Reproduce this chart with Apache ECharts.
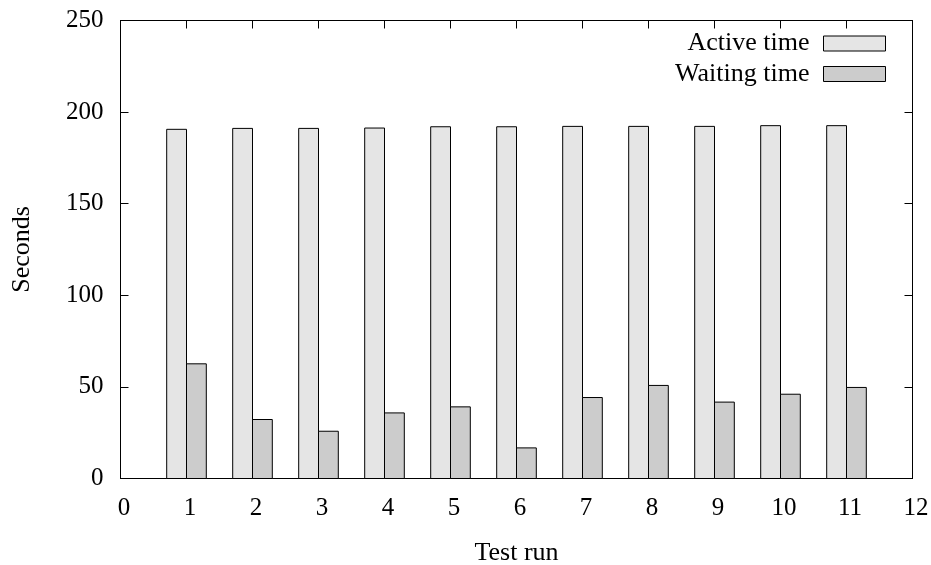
<!DOCTYPE html>
<html>
<head>
<meta charset="utf-8">
<script src="https://cdn.jsdelivr.net/npm/echarts@6/dist/echarts.min.js"></script>
<style>
  html, body { margin: 0; padding: 0; background: #fff; }
  #chart { width: 931px; height: 565px; }
</style>
</head>
<body>
<div id="chart"></div>
<script>
// Test runs and the time spent in each
const runs = [1, 2, 3, 4, 5, 6, 7, 8, 9, 10, 11];
const activeTime = [190.6, 191.1, 191.1, 191.3, 192.0, 192.0, 192.2, 192.2, 192.2, 192.6, 192.6];
const waitingTime = [62.6, 32.2, 25.8, 35.8, 39.1, 16.7, 44.2, 50.8, 41.7, 46.0, 49.7];
const xTicks = [0, 1, 2, 3, 4, 5, 6, 7, 8, 9, 10, 11, 12];
const yTicks = [0, 50, 100, 150, 200, 250];

const FONT = '"Liberation Serif", "DejaVu Serif", serif';
const BAR_W = 0.3; // bar width in x units

// Draw a bar between x+offset and x+offset+BAR_W (data units) from 0 up to value
function barRenderer(offset) {
  return function (params, api) {
    const x = api.value(0);
    const v = api.value(1);
    const p0 = api.coord([x + offset, v]);
    const p1 = api.coord([x + offset + BAR_W, 0]);
    return {
      type: 'rect',
      shape: { x: p0[0], y: p0[1], width: p1[0] - p0[0], height: p1[1] - p0[1] },
      style: api.style()
    };
  };
}

const activeData = runs.map((r, i) => [r, activeTime[i]]);
const waitingData = runs.map((r, i) => [r, waitingTime[i]]);

const axisLine = { show: true, onZero: false, lineStyle: { color: '#000', width: 1 } };
const tick = { show: true, inside: true, length: 8, lineStyle: { color: '#000', width: 1 } };
const numStyle = { color: '#000', fontFamily: FONT, fontSize: 25 };
const textStyle = { color: '#000', fontFamily: FONT, fontSize: 26 };

function legendEntry(name, color, top) {
  return {
    data: [{ name: name, icon: 'rect', itemStyle: { color: color, borderColor: '#000', borderWidth: 1 } }],
    right: 45, top: top, padding: 0, align: 'right', itemWidth: 62, itemHeight: 15,
    textStyle: Object.assign({ padding: [0, 9, 0, 0] }, textStyle), selectedMode: false
  };
}

const chart = echarts.init(document.getElementById('chart'), null, { renderer: 'canvas' });
chart.setOption({
  animation: false,
  backgroundColor: '#fff',
  grid: { left: 120.5, right: 18.5, top: 20.5, bottom: 86.5, containLabel: false, outerBoundsMode: 'none' },
  legend: [
    legendEntry('Active time', '#e5e5e5', 30.5),
    legendEntry('Waiting time', '#cccccc', 61)
  ],
  xAxis: [
    {
      type: 'value', min: 0, max: 12, interval: 1, position: 'bottom',
      name: 'Test run', nameLocation: 'middle', nameGap: 62,
      nameTextStyle: textStyle,
      axisLine: axisLine, axisTick: tick,
      axisLabel: Object.assign({ margin: 17, padding: [0, 0, 0, 7], formatter: v => xTicks.includes(v) ? String(v) : '' }, numStyle),
      splitLine: { show: false }
    },
    {
      type: 'value', min: 0, max: 12, interval: 1, position: 'top',
      axisLine: axisLine, axisTick: tick, axisLabel: { show: false }, splitLine: { show: false }
    }
  ],
  yAxis: [
    {
      type: 'value', min: 0, max: 250, interval: 50, position: 'left',
      name: 'Seconds', nameLocation: 'middle', nameGap: 85, nameRotate: 90,
      nameTextStyle: textStyle,
      axisLine: axisLine, axisTick: tick,
      axisLabel: Object.assign({ margin: 17, formatter: v => yTicks.includes(v) ? String(v) : '' }, numStyle),
      splitLine: { show: false }
    },
    {
      type: 'value', min: 0, max: 250, interval: 50, position: 'right',
      axisLine: axisLine, axisTick: tick, axisLabel: { show: false }, splitLine: { show: false }
    }
  ],
  series: [
    {
      name: 'Active time', type: 'custom', xAxisIndex: 0, yAxisIndex: 0,
      renderItem: barRenderer(-BAR_W),
      itemStyle: { color: '#e5e5e5', borderColor: '#000', borderWidth: 1 },
      encode: { x: 0, y: 1 },
      data: activeData, z: 1
    },
    {
      name: 'Waiting time', type: 'custom', xAxisIndex: 0, yAxisIndex: 0,
      renderItem: barRenderer(0),
      itemStyle: { color: '#cccccc', borderColor: '#000', borderWidth: 1 },
      encode: { x: 0, y: 1 },
      data: waitingData, z: 1
    }
  ]
});
</script>
</body>
</html>
